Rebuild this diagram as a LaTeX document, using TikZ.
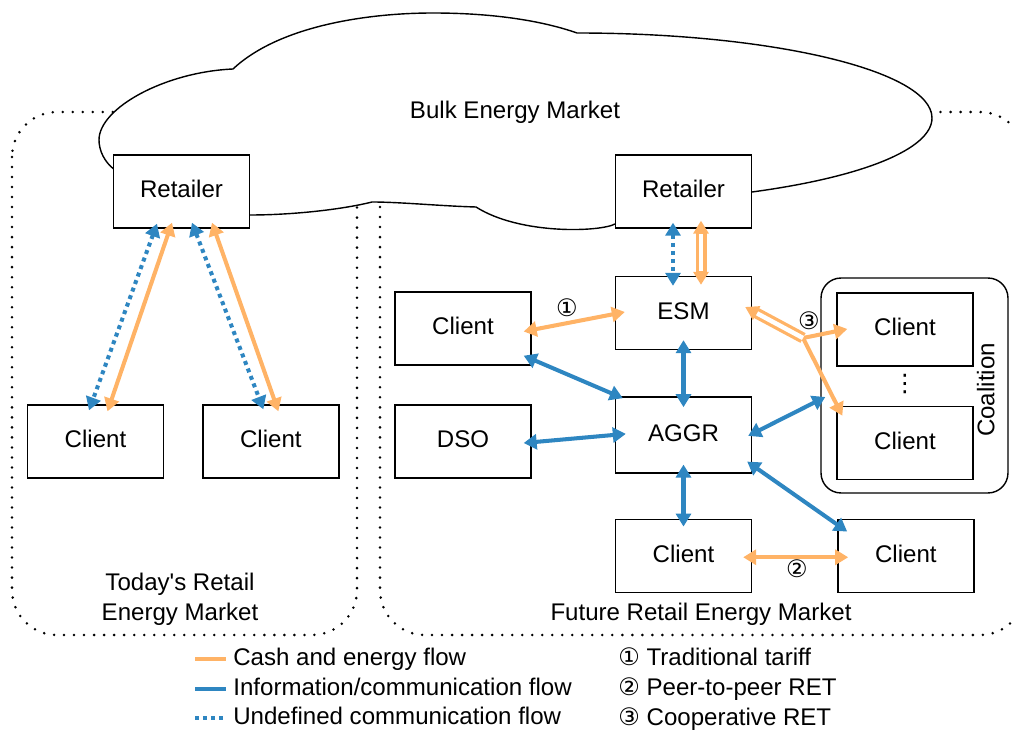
\documentclass[tikz,border=0pt]{standalone}
\usepackage{fontspec}
\setmainfont{Liberation Sans}
\newfontfamily\symfont{DejaVu Sans}
\usetikzlibrary{arrows.meta,calc,positioning}
\definecolor{cashorange}{HTML}{FFB366}
\definecolor{infoblue}{HTML}{2E86C1}
\tikzset{
    box/.style={draw, fill=white, line width=0.8pt, minimum width=2.72cm, minimum height=1.46cm, inner sep=0pt, text height=0.72em, text depth=0pt},
    txt/.style={inner sep=0pt, text height=0.72em, text depth=0pt},
    region/.style={line width=1.6pt, dash pattern=on 0pt off 5.7pt, line cap=round, rounded corners=0.9cm},
    cash/.style={draw=cashorange, line width=2.3pt, <->},
    info/.style={draw=infoblue, line width=2.3pt, <->},
    undef/.style={info, dash pattern=on 0.08cm off 0.08cm},
    cashdbl/.style={draw=cashorange, line width=0.22cm, <->, postaction={draw=white, line width=0.09cm, -, shorten <=0.27cm, shorten >=0.27cm}},
    cashdblone/.style={draw=cashorange, line width=0.22cm, <-, postaction={draw=white, line width=0.09cm, -, shorten <=0.27cm}},
    numlbl/.style={font=\symfont\fontsize{13.7}{16}\selectfont, inner sep=0pt}
}

\begin{document}
\begin{tikzpicture}[x=0.02cm, y=-0.02cm, >={Triangle[length=0.26cm, width=0.3cm]}, font=\fontsize{13.7}{16}\selectfont]
\useasboundingbox (0,0) rectangle (1012,733);

% market regions
\draw[region] (12,112) rectangle (357,635);
\draw[region] (380,112) rectangle (1025,635);

% bulk market
\draw[line width=0.8pt, fill=white] (233,69) .. controls (280,25) and (370,13) .. (433,13)
    .. controls (490,13) and (540,20) .. (577,33)
    .. controls (773,33) and (932,71) .. (932,118)
    .. controls (932,149) and (863,177) .. (752,192)
    -- (615,224)
    .. controls (600,232) and (520,235) .. (476,207)
    .. controls (440,206) and (400,202) .. (372,202)
    .. controls (340,210) and (290,215) .. (250,215)
    -- (115,170)
    .. controls (104,162) and (99,150) .. (99,140)
    .. controls (99,108) and (165,72) .. (233,69) -- cycle;
\node[txt] (bulk) at (515,112) {Bulk Energy Market};

% today's market
\node[box] (retL) at (181.5,191.5) {Retailer};
\node[box] (cliL1) at (95.5,441.5) {Client};
\node[box, right=0.76cm of cliL1] (cliL2) {Client};
\node[align=center, inner sep=0pt, font=\fontsize{13.7}{17}\selectfont] (today) at (180,599) {Today\textquotesingle s Retail\\Energy Market};

% future market
\node[box] (retR) at (683.5,191.5) {Retailer};
\node[box] (esm) at (683.5,313) {ESM};
\node[box, below=0.92cm of esm, minimum height=1.52cm] (aggr) {AGGR};
\node[box, below=0.9cm of aggr] (cliB) {Client};
\node[box, right=1.7cm of cliB] (cliC) {Client};
\node[box] (cliA) at (463,328.5) {Client};
\node[box] (dso) at (463,441.5) {DSO};
\node[draw, line width=0.8pt, rounded corners=0.4cm, minimum width=3.74cm, minimum height=4.3cm] (coal) at (914.5,385.5) {};
\node[box] (cliD) at (905,329.5) {Client};
\node[box, below=0.78cm of cliD] (cliE) {Client};
\node[txt, rotate=90] (coalTxt) at (988,390) {Coalition};
\node[txt] (vdots) at (905,385) {\symfont ⋮};
\node[txt] (future) at (701,614) {Future Retail Energy Market};

\coordinate (split) at (803,338);

\draw
    ($(retL.south)+(-24.5,-5)$) edge[undef] ($(cliL1.north)+(-6.5,6)$)
    ($(retL.south)+(-9.5,-6)$) edge[cash] ($(cliL1.north)+(12,7)$)
    ($(retL.south)+(10.5,-6)$) edge[undef] ($(cliL2.north)+(-7.5,5)$)
    ($(retL.south)+(30.5,-6)$) edge[cash] ($(cliL2.north)+(7.5,7)$);

\draw
    ($(retR.south)+(-10.5,-6)$) edge[undef] ($(esm.north)+(-10.5,10)$)
    ($(retR.south)+(17.5,-8)$) edge[cashdbl] ($(esm.north)+(17.5,9)$)
    ($(cliA.east)+(-8,3)$) edge[cash] ($(esm.west)+(10,-1)$)
    ($(esm.south)+(0,-10)$) edge[info] ($(aggr.north)+(0,11)$)
    ($(cliA.south east)+(-8,-10)$) edge[info] ($(aggr.north west)+(8,2)$)
    ($(dso.east)+(-8,1.5)$) edge[info] ($(aggr.west)+(11,-1)$)
    ($(aggr.south)+(0,-9)$) edge[info] ($(cliB.north)+(0,8)$)
    ($(aggr.south east)+(-5,-12)$) edge[info] ($(cliC.north west)+(10,13)$)
    ($(cliB.east)+(-9,1.5)$) edge[cash] ($(cliC.west)+(11,1.5)$)
    ($(aggr.east)+(-4,1)$) edge[info] ($(coal.west)+(5,11.5)$)
    (split) edge[cash, ->] ($(cliD.west)+(11,-0.5)$)
    (split) edge[cash, ->] ($(cliE.north west)+(6,10)$)
    ($(esm.east)+(-7,-6)$) edge[cashdblone] (split);

\node[numlbl] (num1) at (567,308) {①};
\node[numlbl] (num2) at (797,569) {②};
\node[numlbl] (num3) at (809,321) {③};

% legend
\node[txt, anchor=west] (lgCash) at (233,659) {Cash and energy flow};
\node[txt, anchor=west] (lgInfo) at (233,689) {Information/communication flow};
\node[txt, anchor=west] (lgUndef) at (233,718) {Undefined communication flow};
\coordinate (lgA) at (195,659);
\coordinate (lgB) at (195,689);
\coordinate (lgC) at (195,718);
\draw[cash, -] (lgA) -- ($(lgCash.west)+(-7,0)$);
\draw[info, -] (lgB) -- ($(lgInfo.west)+(-7,0)$);
\draw[undef, -] (lgC) -- ($(lgUndef.west)+(-7,0)$);

\node[txt, anchor=west] (lgT1) at (618,659) {{\symfont ①} Traditional tariff};
\node[txt, anchor=west] (lgT2) at (618,689) {{\symfont ②} Peer-to-peer RET};
\node[txt, anchor=west] (lgT3) at (618,719) {{\symfont ③} Cooperative RET};
\end{tikzpicture}
\end{document}
